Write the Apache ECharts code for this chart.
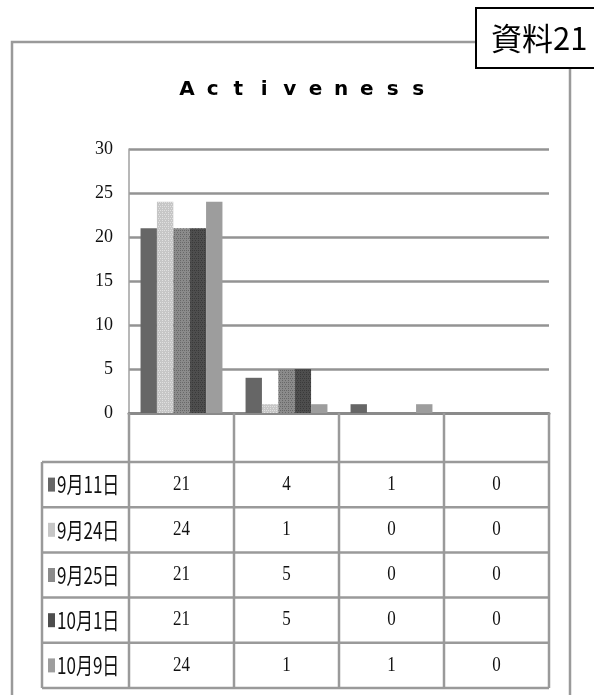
<!DOCTYPE html>
<html>
<head>
<meta charset="utf-8">
<script src="https://cdn.jsdelivr.net/npm/echarts@6/dist/echarts.min.js"></script>
<style>
  html, body { margin: 0; padding: 0; background: #fff; }
  #chart { width: 594px; height: 695px; }
</style>
</head>
<body>
<div id="chart"></div>
<script>
// Answer categories (the header row of the data table is left blank)
const categories = ['', '', '', ''];
// Survey dates, one series each
const seriesNames = ['9月11日', '9月24日', '9月25日', '10月1日', '10月9日'];
const sep11 = [21, 4, 1, 0];
const sep24 = [24, 1, 0, 0];
const sep25 = [21, 5, 0, 0];
const oct01 = [21, 5, 0, 0];
const oct09 = [24, 1, 1, 0];
const titleText = 'Activeness';
const tagText = '資料21';

const seriesValues = [sep11, sep24, sep25, oct01, oct09];
const seriesColors = ['#666666', '#c6c6c6', '#8b8b8b', '#4e4e4e', '#9d9d9d'];
const textured = [false, true, true, true, false];

const W = 594, H = 695;
const gridLeft = 129, gridRight = 45, gridTop = 149, gridBottom = 282;
const lineGray = '#9a9a9a';

const chart = echarts.init(document.getElementById('chart'), null, { renderer: 'canvas' });

const series = seriesNames.map((name, i) => ({
  name,
  type: 'bar',
  data: seriesValues[i],
  barGap: '0%',
  barCategoryGap: '22%',
  itemStyle: {
    color: seriesColors[i],
    decal: textured[i] ? {
      symbol: 'rect',
      symbolSize: 1,
      dashArrayX: [[1, 1], [1, 2]],
      dashArrayY: [1, 1],
      color: i === 1 ? 'rgba(255,255,255,0.45)' : 'rgba(0,0,0,0.25)'
    } : undefined
  },
  emphasis: { disabled: true },
  z: 3
}));

chart.setOption({
  animation: false,
  aria: { enabled: false },
  grid: { left: gridLeft, right: gridRight, top: gridTop, bottom: gridBottom },
  xAxis: {
    type: 'category',
    data: categories,
    axisLine: { show: true, lineStyle: { color: '#8a8a8a', width: 3 } },
    axisTick: { show: false },
    axisLabel: { show: false },
    splitLine: { show: false }
  },
  yAxis: {
    type: 'value',
    min: 0,
    max: 30,
    interval: 5,
    axisLine: { show: true, lineStyle: { color: '#a0a0a0', width: 1.5 } },
    axisTick: { show: false },
    axisLabel: {
      margin: 16,
      fontFamily: 'Liberation Serif',
      fontSize: 18,
      color: '#111'
    },
    splitLine: { show: true, lineStyle: { color: '#939393', width: 2.5 } }
  },
  series
});

function buildGraphics() {
  const els = [];
  const plotW = W - gridLeft - gridRight;
  const n = categories.length;
  const band = plotW / n;
  const axisY = chart.convertToPixel({ yAxisIndex: 0 }, 0);
  const headerBottom = axisY + 49;
  const rowH = 45.2;
  const tableBottom = headerBottom + rowH * seriesNames.length;
  const labelColLeft = 42;
  const tableRight = gridLeft + plotW;
  const border = { stroke: lineGray, lineWidth: 2.5 };

  // outer frame
  els.push({ type: 'polyline', shape: { points: [[12, H + 5], [12, 42], [476, 42]] }, style: Object.assign({ fill: null }, border), z: 1 });
  els.push({ type: 'line', shape: { x1: 570, y1: 68, x2: 570, y2: H + 5 }, style: border, z: 1 });

  // tag box
  els.push({ type: 'rect', shape: { x: 476, y: 8, width: 130, height: 60 }, style: { fill: '#fff', stroke: '#000', lineWidth: 2 }, z: 5 });
  els.push({ type: 'text', x: 491, y: 38, style: { text: tagText, fontFamily: 'Noto Sans CJK JP', fontSize: 31, fill: '#000', verticalAlign: 'middle', textAlign: 'left' }, z: 6 });

  // spaced-out title
  const chars = titleText.split('');
  chars.forEach((c, k) => {
    els.push({ type: 'text', x: 187 + k * 25.7, y: 90, style: { text: c, fontFamily: 'DejaVu Sans', fontWeight: 'bold', fontSize: 20, fill: '#000', textAlign: 'center', verticalAlign: 'middle' }, z: 5 });
  });

  // table: vertical lines
  for (let i = 0; i <= n; i++) {
    const x = gridLeft + i * band;
    els.push({ type: 'line', shape: { x1: x, y1: axisY, x2: x, y2: tableBottom }, style: border, z: 2 });
  }
  els.push({ type: 'line', shape: { x1: labelColLeft, y1: headerBottom, x2: labelColLeft, y2: tableBottom }, style: border, z: 2 });
  // horizontal lines
  for (let r = 0; r <= seriesNames.length; r++) {
    const y = headerBottom + r * rowH;
    els.push({ type: 'line', shape: { x1: labelColLeft, y1: y, x2: tableRight, y2: y }, style: border, z: 2 });
  }

  // rows: legend key, date label, values
  seriesNames.forEach((name, r) => {
    const cy = headerBottom + r * rowH + rowH / 2;
    els.push({ type: 'rect', shape: { x: 48, y: cy - 7, width: 7, height: 14 }, style: { fill: seriesColors[r] }, z: 4 });
    els.push({ type: 'text', x: 57, y: cy, style: { text: name, fontFamily: 'Noto Sans CJK JP', fontSize: 23, fill: '#111', textAlign: 'left', verticalAlign: 'middle' }, scaleX: 0.74, z: 4 });
    seriesValues[r].forEach((v, c) => {
      const cx = chart.convertToPixel({ xAxisIndex: 0 }, c);
      els.push({ type: 'text', x: cx, y: cy, style: { text: String(v), fontFamily: 'Liberation Serif', fontSize: 20, fill: '#111', textAlign: 'center', verticalAlign: 'middle' }, scaleX: 0.85, z: 4 });
    });
  });

  chart.setOption({ graphic: { elements: els } });
}

buildGraphics();
</script>
</body>
</html>
